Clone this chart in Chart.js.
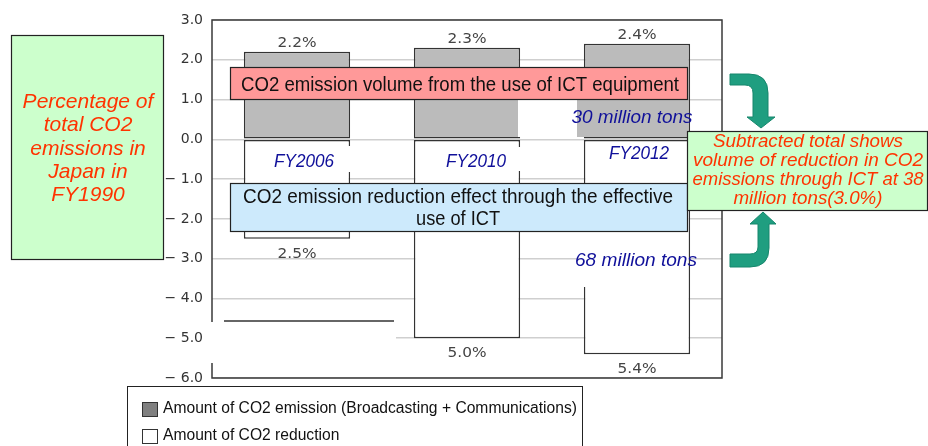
<!DOCTYPE html>
<html>
<head>
<meta charset="utf-8">
<script src="https://cdn.jsdelivr.net/npm/chart.js@4"></script>
<style>
  html, body { margin: 0; padding: 0; background: #fff; }
  #wrap { width: 928px; height: 446px; position: relative; }
</style>
</head>
<body>
<div id="wrap"><canvas id="chartCO2"></canvas></div>
<script>
const years = ["FY2006", "FY2010", "FY2012"];
const emission = [2.2, 2.3, 2.4];
const reduction = [-2.5, -5.0, -5.4];
const yTickLabels = ["− 6.0", "− 5.0", "− 4.0", "− 3.0", "− 2.0", "− 1.0", "0.0", "1.0", "2.0", "3.0"];
const seriesNames = [
  "Amount of CO2 emission (Broadcasting + Communications)",
  "Amount of CO2 reduction",
];

const ARIAL = '"Liberation Sans", Arial, sans-serif';

// draw text, squeezed/stretched to a given width when one is passed
function txt(ctx, str, x, y, font, color, width, align) {
  ctx.save();
  ctx.font = font;
  ctx.fillStyle = color;
  ctx.textAlign = align || "center";
  ctx.textBaseline = "alphabetic";
  ctx.translate(x, y);
  if (width) {
    const w = ctx.measureText(str).width;
    ctx.scale(width / w, 1);
  }
  ctx.fillText(str, 0, 0);
  ctx.restore();
}

function box(ctx, x, y, w, h, fill) {
  ctx.save();
  ctx.fillStyle = fill;
  ctx.fillRect(x, y, w, h);
  ctx.strokeStyle = "#222";
  ctx.lineWidth = 1.2;
  ctx.strokeRect(x + 0.5, y + 0.5, w, h);
  ctx.restore();
}

const framePlugin = {
  id: "frame",
  beforeDatasetsDraw(chart) {
    const { ctx, chartArea: a } = chart;
    ctx.save();
    ctx.strokeStyle = "#3a3a3a";
    ctx.lineWidth = 1.5;
    ctx.strokeRect(a.left, a.top, a.right - a.left, a.bottom - a.top);
    ctx.restore();
  },
};

const extrasPlugin = {
  id: "extras",
  afterDraw(chart) {
    const ctx = chart.ctx;

    // value labels on the bars
    chart.data.datasets.forEach((ds, i) => {
      chart.getDatasetMeta(i).data.forEach((bar, j) => {
        const v = ds.data[j];
        const label = Math.abs(v).toFixed(1) + "%";
        const y = v >= 0 ? bar.y - 5 : bar.y + 19;
        txt(ctx, label, bar.x, y, '14px "DejaVu Sans", sans-serif', "#444", 39);
      });
    });

    ctx.save();
    // white patches left on the original picture
    ctx.fillStyle = "#fff";
    ctx.fillRect(209, 322, 187, 41);
    ctx.fillRect(272, 146, 81, 26);
    ctx.fillRect(440, 147, 82, 24);
    ctx.fillRect(518, 100, 59, 37);
    ctx.fillRect(581, 231, 105, 56);
    ctx.fillStyle = "#bbbbbb";
    ctx.fillRect(577, 100, 109, 37);
    ctx.strokeStyle = "#333";
    ctx.lineWidth = 1.5;
    ctx.beginPath();
    ctx.moveTo(224, 321);
    ctx.lineTo(394, 321);
    ctx.stroke();
    ctx.restore();

    // year labels and tonnage labels
    const blueFont = "italic 18px " + ARIAL;
    const blue = "#10109a";
    txt(ctx, years[0], 304, 167, blueFont, blue, 60);
    txt(ctx, years[1], 476, 167, blueFont, blue, 60);
    txt(ctx, years[2], 639, 159, blueFont, blue, 60);
    txt(ctx, "30 million tons", 632, 123, blueFont, blue, 121);
    txt(ctx, "68 million tons", 636, 266, blueFont, blue, 122);

    // pink and blue captions
    box(ctx, 230, 67, 457, 32, "#ff9999");
    txt(ctx, "CO2 emission volume from the use of ICT equipment", 460, 91, "20px " + ARIAL, "#111", 438);
    box(ctx, 230, 183, 457, 48, "#cdeafc");
    txt(ctx, "CO2 emission reduction effect through the effective", 458, 203, "20px " + ARIAL, "#111", 430);
    txt(ctx, "use of ICT", 458, 225, "20px " + ARIAL, "#111", 84);

    // left green note
    box(ctx, 11, 35, 152, 224, "#ccffcc");
    const red = "#ff3300";
    const leftLines = ["Percentage of", "total CO2", "emissions in", "Japan in", "FY1990"];
    leftLines.forEach((s, i) => {
      txt(ctx, s, 88, 108 + i * 23.3, "italic 21px " + ARIAL, red);
    });

    // right green note
    box(ctx, 687, 131, 240, 79, "#ccffcc");
    const rightLines = [
      ["Subtracted total shows", 190],
      ["volume of reduction in CO2", 230],
      ["emissions through ICT at 38", 231],
      ["million tons(3.0%)", 149],
    ];
    rightLines.forEach((l, i) => {
      txt(ctx, l[0], 808, 147 + i * 19, "italic 18px " + ARIAL, red, l[1]);
    });

    // teal arrows
    ctx.save();
    ctx.fillStyle = "#1f9e80";
    ctx.strokeStyle = "#17866c";
    ctx.lineWidth = 1;
    ctx.beginPath();
    ctx.moveTo(730, 74);
    ctx.lineTo(749, 74);
    ctx.quadraticCurveTo(768, 74, 768, 93);
    ctx.lineTo(768, 117);
    ctx.lineTo(775, 117);
    ctx.lineTo(761, 128);
    ctx.lineTo(747, 117);
    ctx.lineTo(753, 117);
    ctx.lineTo(753, 93);
    ctx.quadraticCurveTo(753, 85, 745, 85);
    ctx.lineTo(730, 85);
    ctx.closePath();
    ctx.fill();
    ctx.stroke();
    ctx.beginPath();
    ctx.moveTo(730, 267);
    ctx.lineTo(750, 267);
    ctx.quadraticCurveTo(769, 267, 769, 248);
    ctx.lineTo(769, 224);
    ctx.lineTo(776, 224);
    ctx.lineTo(763, 212);
    ctx.lineTo(750, 224);
    ctx.lineTo(758, 224);
    ctx.lineTo(758, 247);
    ctx.quadraticCurveTo(758, 254, 750, 254);
    ctx.lineTo(730, 254);
    ctx.closePath();
    ctx.fill();
    ctx.stroke();
    ctx.restore();

    // legend
    ctx.save();
    ctx.fillStyle = "#fff";
    ctx.fillRect(127, 386, 455, 70);
    ctx.strokeStyle = "#222";
    ctx.lineWidth = 1;
    ctx.strokeRect(127.5, 386.5, 455, 70);
    const swatches = ["#808080", "#ffffff"];
    ctx.font = "16px " + ARIAL;
    const sx = 414 / ctx.measureText(chart.data.datasets[0].label).width;
    chart.data.datasets.forEach((ds, i) => {
      const y = 413 + i * 27;
      ctx.fillStyle = swatches[i];
      ctx.fillRect(142, y - 11, 16, 15);
      ctx.strokeStyle = "#333";
      ctx.strokeRect(142.5, y - 10.5, 15, 14);
      ctx.save();
      ctx.translate(163, y);
      ctx.scale(sx, 1);
      ctx.fillStyle = "#111";
      ctx.textAlign = "left";
      ctx.fillText(ds.label, 0, 0);
      ctx.restore();
    });
    ctx.restore();
  },
};

new Chart(document.getElementById("chartCO2").getContext("2d"), {
  type: "bar",
  data: {
    labels: years,
    datasets: [
      {
        label: seriesNames[0],
        data: emission,
        backgroundColor: "#bbbbbb",
        borderColor: "#333",
        borderWidth: 1.5,
        borderSkipped: false,
      },
      {
        label: seriesNames[1],
        data: reduction,
        backgroundColor: "#ffffff",
        borderColor: "#333",
        borderWidth: 1.5,
        borderSkipped: false,
      },
    ],
  },
  options: {
    responsive: true,
    maintainAspectRatio: false,
    animation: false,
    devicePixelRatio: 1,
    categoryPercentage: 1,
    barPercentage: 0.625,
    layout: { padding: { top: 20, right: 206, bottom: 68, left: 0 } },
    scales: {
      x: {
        display: false,
        stacked: true,
      },
      y: {
        stacked: true,
        min: -6,
        max: 3,
        afterFit(scale) {
          scale.width = 212;
        },
        ticks: {
          stepSize: 1,
          padding: 9,
          color: "#333",
          font: { family: "DejaVu Sans", size: 14 },
          callback: (v, i) => yTickLabels[i],
        },
        grid: { color: "#cfcfcf", lineWidth: 1.5, drawTicks: false },
        border: { display: false },
      },
    },
    plugins: {
      legend: { display: false },
      tooltip: { enabled: false },
    },
  },
  plugins: [framePlugin, extrasPlugin],
});
</script>
</body>
</html>
